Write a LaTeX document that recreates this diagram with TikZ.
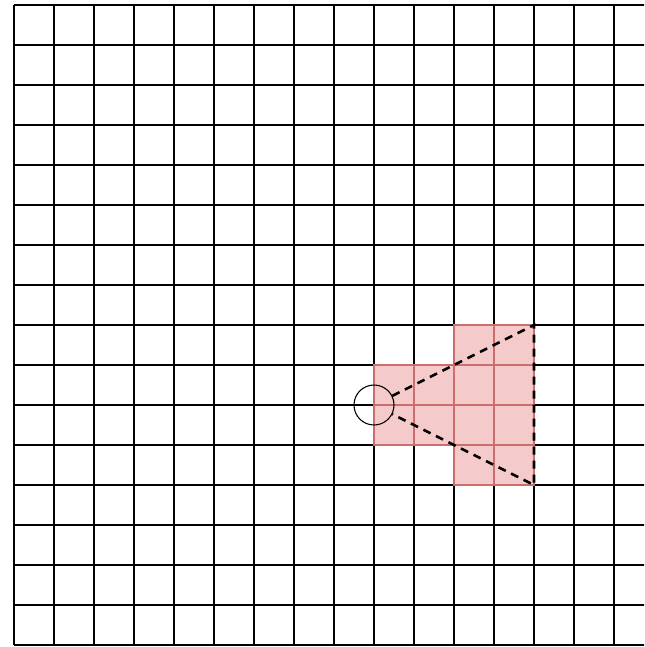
\documentclass[tikz,border=0pt]{standalone}
\definecolor{cellfill}{RGB}{245,202,202}
\definecolor{celledge}{RGB}{205,110,110}
\begin{document}
\begin{tikzpicture}[x=0.75pt,y=-0.75pt,
  gridline/.style={black,line width=1.1pt},
  pinkcell/.style={fill=cellfill,draw=celledge,line width=1.1pt},
  beam/.style={black,line width=1.9pt,dash pattern=on 6pt off 4.5pt},
  sensor/.style={circle,draw=black,line width=0.8pt,minimum size=30pt,inner sep=0pt}]
\useasboundingbox (0,0) rectangle (644,647);
\begin{scope}
\clip (0,0) rectangle (644,647);
\foreach \k in {0,...,16} {
  \draw[gridline] (14,{5+40*\k}) -- (660,{5+40*\k});
}
\foreach \k in {0,...,15} {
  \draw[gridline] ({14+40*\k},5) -- ({14+40*\k},645);
}
\end{scope}
% pink cells
\foreach \cx/\cy in {374/365,414/365,374/405,414/405,
                     454/325,494/325,454/365,494/365,454/405,494/405,454/445,494/445} {
  \draw[pinkcell] (\cx,\cy) rectangle ++(40,40);
}
\node[sensor] (c) at (374,405) {};
\coordinate (tr) at (534,325);
\coordinate (br) at (534,485);
\draw[beam] (c) -- (tr) -- (br) -- (c);
\end{tikzpicture}
\end{document}
